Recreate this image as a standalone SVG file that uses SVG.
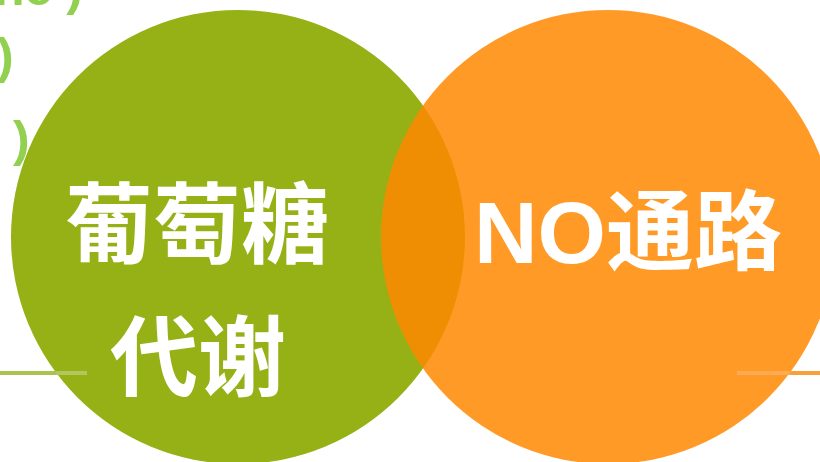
<svg xmlns="http://www.w3.org/2000/svg" width="820" height="462" viewBox="0 0 820 462">
  <style>
    .frag { font-family: "Liberation Sans", "Noto Sans", sans-serif; font-weight: bold; font-size: 50px; fill: #92D050; }
    .label { font-family: "Liberation Sans", "Noto Sans CJK SC", sans-serif; font-weight: bold; font-size: 88px; fill: #FFFFFF; }
  </style>
  <rect x="0" y="0" width="820" height="462" fill="#FFFFFF"/>
  <g id="background-text">
    <text class="frag" x="-6" y="5">ne )</text>
    <text class="frag" x="-3" y="73">)</text>
    <text class="frag" x="13" y="156">)</text>
  </g>
  <g id="node-glucose">
    <circle cx="238" cy="237" r="227" fill="#95B115"/>
  </g>
  <g id="node-no">
    <circle cx="608" cy="237" r="227" fill="#FF8800" fill-opacity="0.85"/>
  </g>
  <g id="connectors">
    <rect x="0" y="371" width="56" height="4" fill="#A9C34C"/>
    <rect x="56" y="371" width="31" height="4" fill="#B3C65C"/>
    <rect x="737" y="371" width="53" height="4" fill="#FDAA50"/>
    <rect x="790" y="371" width="30" height="4" fill="#F9A03C"/>
  </g>
  <g id="labels">
    <text class="label" x="197" y="256" text-anchor="middle">葡萄糖</text>
    <text class="label" x="198" y="389" text-anchor="middle">代谢</text>
    <text class="label" x="474" y="263">NO通路</text>
  </g>
</svg>
